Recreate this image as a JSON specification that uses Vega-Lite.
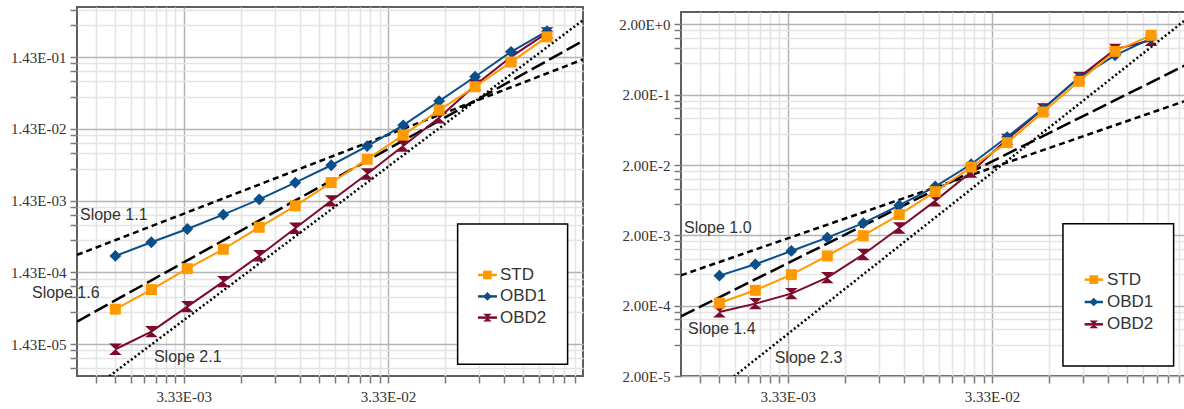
{
  "$schema": "https://vega.github.io/schema/vega-lite/v6.json",
  "background": "white",
  "padding": {"left": 9, "top": 6, "right": 0, "bottom": 0},
  "spacing": 33,
  "config": {
    "view": {"stroke": "#5e5e5e", "strokeWidth": 2},
    "axis": {"domain": false, "tickColor": "#7a7a7a", "tickWidth": 1.5, "tickSize": 7, "labelFont": "Liberation Sans Narrow", "labelColor": "#333333", "labelPadding": 4, "gridWidth": 1.5, "labelOverlap": false, "labelFlush": false},
    "axisX": {"labelPadding": 6}
  },
  "datasets": {
    "left": [
      {"series": "OBD2", "x": 0.0015415, "y": 1.21e-5}, {"series": "OBD2", "x": 0.0023122, "y": 2.13e-5}, {"series": "OBD2", "x": 0.0034683, "y": 4.76e-5}, {"series": "OBD2", "x": 0.0052025, "y": 1.06e-4}, {"series": "OBD2", "x": 0.0078037, "y": 2.44e-4}, {"series": "OBD2", "x": 0.0117055, "y": 5.88e-4}, {"series": "OBD2", "x": 0.0175583, "y": 1.42e-3}, {"series": "OBD2", "x": 0.0263374, "y": 3.36e-3}, {"series": "OBD2", "x": 0.0395062, "y": 8.24e-3}, {"series": "OBD2", "x": 0.0592593, "y": 2.04e-2}, {"series": "OBD2", "x": 0.0888889, "y": 5.82e-2}, {"series": "OBD2", "x": 0.1333333, "y": 0.144}, {"series": "OBD2", "x": 0.2, "y": 0.312},
      {"series": "OBD1", "x": 0.0015415, "y": 2.42e-4}, {"series": "OBD1", "x": 0.0023122, "y": 3.76e-4}, {"series": "OBD1", "x": 0.0034683, "y": 5.75e-4}, {"series": "OBD1", "x": 0.0052025, "y": 9.10e-4}, {"series": "OBD1", "x": 0.0078037, "y": 1.49e-3}, {"series": "OBD1", "x": 0.0117055, "y": 2.54e-3}, {"series": "OBD1", "x": 0.0175583, "y": 4.45e-3}, {"series": "OBD1", "x": 0.0263374, "y": 8.24e-3}, {"series": "OBD1", "x": 0.0395062, "y": 1.60e-2}, {"series": "OBD1", "x": 0.0592593, "y": 3.49e-2}, {"series": "OBD1", "x": 0.0888889, "y": 7.61e-2}, {"series": "OBD1", "x": 0.1333333, "y": 0.1695}, {"series": "OBD1", "x": 0.2, "y": 0.329},
      {"series": "STD", "x": 0.0015415, "y": 4.38e-5}, {"series": "STD", "x": 0.0023122, "y": 8.21e-5}, {"series": "STD", "x": 0.0034683, "y": 1.61e-4}, {"series": "STD", "x": 0.0052025, "y": 3.00e-4}, {"series": "STD", "x": 0.0078037, "y": 6.07e-4}, {"series": "STD", "x": 0.0117055, "y": 1.21e-3}, {"series": "STD", "x": 0.0175583, "y": 2.55e-3}, {"series": "STD", "x": 0.0263374, "y": 5.38e-3}, {"series": "STD", "x": 0.0395062, "y": 1.17e-2}, {"series": "STD", "x": 0.0592593, "y": 2.61e-2}, {"series": "STD", "x": 0.0888889, "y": 5.52e-2}, {"series": "STD", "x": 0.1333333, "y": 0.122}, {"series": "STD", "x": 0.2, "y": 0.274}
    ],
    "right": [
      {"series": "OBD2", "x": 0.0015415, "y": 1.63e-4}, {"series": "OBD2", "x": 0.0023122, "y": 2.14e-4}, {"series": "OBD2", "x": 0.0034683, "y": 2.97e-4}, {"series": "OBD2", "x": 0.0052025, "y": 5.01e-4}, {"series": "OBD2", "x": 0.0078037, "y": 1.07e-3}, {"series": "OBD2", "x": 0.0117055, "y": 2.54e-3}, {"series": "OBD2", "x": 0.0175583, "y": 6.19e-3}, {"series": "OBD2", "x": 0.0263374, "y": 1.59e-2}, {"series": "OBD2", "x": 0.0395062, "y": 4.64e-2}, {"series": "OBD2", "x": 0.0592593, "y": 0.126}, {"series": "OBD2", "x": 0.0888889, "y": 0.353}, {"series": "OBD2", "x": 0.1333333, "y": 0.883}, {"series": "OBD2", "x": 0.2, "y": 1.186},
      {"series": "OBD1", "x": 0.0015415, "y": 5.35e-4}, {"series": "OBD1", "x": 0.0023122, "y": 7.75e-4}, {"series": "OBD1", "x": 0.0034683, "y": 1.20e-3}, {"series": "OBD1", "x": 0.0052025, "y": 1.86e-3}, {"series": "OBD1", "x": 0.0078037, "y": 2.99e-3}, {"series": "OBD1", "x": 0.0117055, "y": 5.35e-3}, {"series": "OBD1", "x": 0.0175583, "y": 9.89e-3}, {"series": "OBD1", "x": 0.0263374, "y": 2.05e-2}, {"series": "OBD1", "x": 0.0395062, "y": 5.00e-2}, {"series": "OBD1", "x": 0.0592593, "y": 0.1267}, {"series": "OBD1", "x": 0.0888889, "y": 0.349}, {"series": "OBD1", "x": 0.1333333, "y": 0.725}, {"series": "OBD1", "x": 0.2, "y": 1.265},
      {"series": "STD", "x": 0.0015415, "y": 2.18e-4}, {"series": "STD", "x": 0.0023122, "y": 3.31e-4}, {"series": "STD", "x": 0.0034683, "y": 5.53e-4}, {"series": "STD", "x": 0.0052025, "y": 1.02e-3}, {"series": "STD", "x": 0.0078037, "y": 1.98e-3}, {"series": "STD", "x": 0.0117055, "y": 3.94e-3}, {"series": "STD", "x": 0.0175583, "y": 8.37e-3}, {"series": "STD", "x": 0.0263374, "y": 1.87e-2}, {"series": "STD", "x": 0.0395062, "y": 4.16e-2}, {"series": "STD", "x": 0.0592593, "y": 0.1133}, {"series": "STD", "x": 0.0888889, "y": 0.310}, {"series": "STD", "x": 0.1333333, "y": 0.826}, {"series": "STD", "x": 0.2, "y": 1.396}
    ],
    "slopesL": [
      {"slope": "1.1", "x": 0.001, "y": 2.50e-4}, {"slope": "1.1", "x": 0.3, "y": 0.1327},
      {"slope": "1.6", "x": 0.001, "y": 2.94e-5}, {"slope": "1.6", "x": 0.3, "y": 0.241},
      {"slope": "2.1", "x": 0.001, "y": 2.34e-6}, {"slope": "2.1", "x": 0.3, "y": 0.469}
    ],
    "slopesR": [
      {"slope": "1.0", "x": 0.001, "y": 5.41e-4}, {"slope": "1.0", "x": 0.3, "y": 0.1663},
      {"slope": "1.4", "x": 0.001, "y": 1.41e-4}, {"slope": "1.4", "x": 0.3, "y": 0.540},
      {"slope": "2.3", "x": 0.001, "y": 5.0e-6}, {"slope": "2.3", "x": 0.3, "y": 2.41}
    ],
    "labelsL": [
      {"text": "Slope 1.1", "x": 0.001034, "y": 9.02e-4},
      {"text": "Slope 1.6", "x": 0.000602, "y": 7.38e-5},
      {"text": "Slope 2.1", "x": 0.00238, "y": 9.48e-6}
    ],
    "labelsR": [
      {"text": "Slope 1.0", "x": 0.001034, "y": 2.54e-3},
      {"text": "Slope 1.4", "x": 0.001082, "y": 9.44e-5},
      {"text": "Slope 2.3", "x": 0.002875, "y": 3.61e-5}
    ],
    "boxL": [{"x": 0.07301, "x2": 0.2522, "y": 6.75e-4, "y2": 7.51e-6}],
    "boxR": [{"x": 0.07411, "x2": 0.2580, "y": 2.935e-3, "y2": 2.774e-5}],
    "legL": [
      {"series": "STD", "x": 0.09181, "x2": 0.11370, "xm": 0.10216, "xt": 0.11762, "y": 1.315e-4},
      {"series": "OBD1", "x": 0.09181, "x2": 0.11370, "xm": 0.10216, "xt": 0.11762, "y": 6.60e-5},
      {"series": "OBD2", "x": 0.09181, "x2": 0.11370, "xm": 0.10216, "xt": 0.11762, "y": 3.345e-5}
    ],
    "legR": [
      {"series": "STD", "x": 0.09463, "x2": 0.11630, "xm": 0.10486, "xt": 0.12168, "y": 4.692e-4},
      {"series": "OBD1", "x": 0.09463, "x2": 0.11630, "xm": 0.10486, "xt": 0.12168, "y": 2.254e-4},
      {"series": "OBD2", "x": 0.09463, "x2": 0.11630, "xm": 0.10486, "xt": 0.12168, "y": 1.086e-4}
    ]
  },
  "resolve": {"scale": {"color": "independent", "shape": "independent", "stroke": "independent", "strokeDash": "independent", "size": "independent"}},
  "hconcat": [
    {
      "width": 506,
      "height": 369,
      "layer": [
        {
          "data": {"name": "slopesL"},
          "mark": {"type": "line", "clip": true, "color": "black", "strokeWidth": 2.5},
          "encoding": {
            "x": {"field": "x", "type": "quantitative", "title": null,
              "scale": {"type": "log", "domain": [0.001, 0.3], "nice": false},
              "axis": {
                "values": [0.0012333, 0.0015333, 0.0018333, 0.0021333, 0.0024333, 0.0027333, 0.0030333, 0.0033333333333333335, 0.0063333, 0.0093333, 0.0123333, 0.0153333, 0.0183333, 0.0213333, 0.0243333, 0.0273333, 0.0303333, 0.03333333333333333, 0.0633333, 0.0933333, 0.1233333, 0.1533333, 0.1833333, 0.2133333, 0.2433333, 0.2733333],
                "labelExpr": "indexof([0.0033333333333333335, 0.03333333333333333], datum.value) >= 0 ? replace(upper(format(datum.value, '.2e')), 'E-', 'E-0') : ''",
                "labelFontSize": {"condition": {"test": "indexof([0.0033333333333333335, 0.03333333333333333], datum.value) >= 0", "value": 15}, "value": 0},
                "gridColor": {"condition": {"test": "indexof([0.0033333333333333335, 0.03333333333333333], datum.value) >= 0", "value": "#b3b3b3"}, "value": "#e4e4e4"}
              }},
            "y": {"field": "y", "type": "quantitative", "title": null,
              "scale": {"type": "log", "domain": [5.13e-6, 0.715], "nice": false},
              "axis": {
                "values": [6.578e-6, 9.152e-6, 1.1726e-5, 1.43e-5, 4.004e-5, 6.578e-5, 9.152e-5, 1.1726e-4, 1.43e-4, 4.004e-4, 6.578e-4, 9.152e-4, 1.1726e-3, 1.43e-3, 4.004e-3, 6.578e-3, 9.152e-3, 1.1726e-2, 1.43e-2, 4.004e-2, 6.578e-2, 9.152e-2, 1.1726e-1, 1.43e-1, 0.4004, 0.6578],
                "labelExpr": "indexof([1.43e-5, 1.43e-4, 1.43e-3, 1.43e-2, 1.43e-1], datum.value) >= 0 ? replace(upper(format(datum.value, '.2e')), 'E-', 'E-0') : ''",
                "labelFontSize": {"condition": {"test": "indexof([1.43e-5, 1.43e-4, 1.43e-3, 1.43e-2, 1.43e-1], datum.value) >= 0", "value": 15}, "value": 0},
                "gridColor": {"condition": {"test": "indexof([1.43e-5, 1.43e-4, 1.43e-3, 1.43e-2, 1.43e-1], datum.value) >= 0", "value": "#b3b3b3"}, "value": "#e4e4e4"}
              }},
            "strokeDash": {"field": "slope", "type": "nominal", "legend": null,
              "scale": {"domain": ["1.1", "1.6", "2.1"], "range": [[6, 4], [15, 5], [2, 2.5]]}}
          }
        },
        {
          "data": {"name": "left"},
          "mark": {"type": "line", "strokeWidth": 2},
          "encoding": {
            "x": {"field": "x", "type": "quantitative", "title": null},
            "y": {"field": "y", "type": "quantitative", "title": null},
            "stroke": {"field": "series", "type": "nominal", "legend": null,
              "scale": {"domain": ["STD", "OBD1", "OBD2"], "range": ["#FF9900", "#0B4F8A", "#7D0A2B"]}}
          }
        },
        {
          "data": {"name": "left"},
          "mark": {"type": "point", "filled": true, "opacity": 1},
          "encoding": {
            "x": {"field": "x", "type": "quantitative", "title": null},
            "y": {"field": "y", "type": "quantitative", "title": null},
            "size": {"field": "series", "type": "nominal", "legend": null,
              "scale": {"domain": ["STD", "OBD1", "OBD2"], "range": [120, 160, 130]}},
            "color": {"field": "series", "type": "nominal", "legend": null,
              "scale": {"domain": ["STD", "OBD1", "OBD2"], "range": ["#FF9900", "#0B4F8A", "#7D0A2B"]}},
            "shape": {"field": "series", "type": "nominal", "legend": null,
              "scale": {"domain": ["STD", "OBD1", "OBD2"], "range": ["square", "diamond", "M-1,-0.9L1,-0.9L-1,0.9L1,0.9Z"]}}
          }
        },
        {
          "data": {"name": "boxL"},
          "mark": {"type": "rect", "fill": "white", "stroke": "black", "strokeWidth": 1.5},
          "encoding": {
            "x": {"field": "x", "type": "quantitative", "title": null},
            "x2": {"field": "x2"},
            "y": {"field": "y", "type": "quantitative", "title": null},
            "y2": {"field": "y2"}
          }
        },
        {
          "data": {"name": "legL"},
          "mark": {"type": "rule", "strokeWidth": 2.5},
          "encoding": {
            "x": {"field": "x", "type": "quantitative", "title": null},
            "x2": {"field": "x2"},
            "y": {"field": "y", "type": "quantitative", "title": null},
            "color": {"field": "series", "type": "nominal", "legend": null}
          }
        },
        {
          "data": {"name": "legL"},
          "mark": {"type": "point", "filled": true, "opacity": 1, "size": 75},
          "encoding": {
            "x": {"field": "xm", "type": "quantitative", "title": null},
            "y": {"field": "y", "type": "quantitative", "title": null},
            "color": {"field": "series", "type": "nominal", "legend": null},
            "shape": {"field": "series", "type": "nominal", "legend": null}
          }
        },
        {
          "data": {"name": "legL"},
          "mark": {"type": "text", "font": "Liberation Sans", "fontSize": 17, "fill": "#333333", "align": "left", "baseline": "middle"},
          "encoding": {
            "x": {"field": "xt", "type": "quantitative", "title": null},
            "y": {"field": "y", "type": "quantitative", "title": null},
            "text": {"field": "series"}
          }
        },
        {
          "data": {"name": "labelsL"},
          "mark": {"type": "text", "font": "Liberation Sans", "fontSize": 16, "fill": "#333333", "align": "left", "baseline": "middle"},
          "encoding": {
            "x": {"field": "x", "type": "quantitative", "title": null},
            "y": {"field": "y", "type": "quantitative", "title": null},
            "text": {"field": "text"}
          }
        }
      ]
    },
    {
      "spacing": 3,
      "resolve": {"scale": {"color": "independent", "shape": "independent", "stroke": "independent", "strokeDash": "independent", "size": "independent"}},
      "vconcat": [
        {
          "width": 506,
          "height": 1,
          "view": {"stroke": null},
          "data": {"values": []},
          "mark": {"type": "point", "opacity": 0}
        },
        {
          "width": 506,
          "height": 364,
          "layer": [
            {
              "data": {"name": "slopesR"},
              "mark": {"type": "line", "clip": true, "color": "black", "strokeWidth": 2.5},
              "encoding": {
                "x": {"field": "x", "type": "quantitative", "title": null,
                  "scale": {"type": "log", "domain": [0.001, 0.3], "nice": false},
                  "axis": {
                    "values": [0.0012333, 0.0015333, 0.0018333, 0.0021333, 0.0024333, 0.0027333, 0.0030333, 0.0033333333333333335, 0.0063333, 0.0093333, 0.0123333, 0.0153333, 0.0183333, 0.0213333, 0.0243333, 0.0273333, 0.0303333, 0.03333333333333333, 0.0633333, 0.0933333, 0.1233333, 0.1533333, 0.1833333, 0.2133333, 0.2433333, 0.2733333],
                    "labelExpr": "indexof([0.0033333333333333335, 0.03333333333333333], datum.value) >= 0 ? replace(upper(format(datum.value, '.2e')), 'E-', 'E-0') : ''",
                    "labelFontSize": {"condition": {"test": "indexof([0.0033333333333333335, 0.03333333333333333], datum.value) >= 0", "value": 15}, "value": 0},
                    "gridColor": {"condition": {"test": "indexof([0.0033333333333333335, 0.03333333333333333], datum.value) >= 0", "value": "#b3b3b3"}, "value": "#e4e4e4"}
                  }},
                "y": {"field": "y", "type": "quantitative", "title": null,
                  "scale": {"type": "log", "domain": [2e-5, 3], "nice": false},
                  "axis": {
                    "values": [2e-5, 5.6e-5, 9.2e-5, 1.28e-4, 1.64e-4, 2e-4, 5.6e-4, 9.2e-4, 1.28e-3, 1.64e-3, 2e-3, 5.6e-3, 9.2e-3, 1.28e-2, 1.64e-2, 2e-2, 5.6e-2, 9.2e-2, 0.128, 0.164, 0.2, 0.56, 0.92, 1.28, 1.64, 2],
                    "labelExpr": "indexof([2e-5, 2e-4, 2e-3, 2e-2, 0.2, 2], datum.value) >= 0 ? upper(format(datum.value, '.2e')) : ''",
                    "labelFontSize": {"condition": {"test": "indexof([2e-5, 2e-4, 2e-3, 2e-2, 0.2, 2], datum.value) >= 0", "value": 15}, "value": 0},
                    "gridColor": {"condition": {"test": "indexof([2e-5, 2e-4, 2e-3, 2e-2, 0.2, 2], datum.value) >= 0", "value": "#b3b3b3"}, "value": "#e4e4e4"}
                  }},
                "strokeDash": {"field": "slope", "type": "nominal", "legend": null,
                  "scale": {"domain": ["1.0", "1.4", "2.3"], "range": [[6, 4], [15, 5], [2, 2.5]]}}
              }
            },
            {
              "data": {"name": "right"},
              "mark": {"type": "line", "strokeWidth": 2},
              "encoding": {
                "x": {"field": "x", "type": "quantitative", "title": null},
                "y": {"field": "y", "type": "quantitative", "title": null},
                "stroke": {"field": "series", "type": "nominal", "legend": null,
                  "scale": {"domain": ["STD", "OBD1", "OBD2"], "range": ["#FF9900", "#0B4F8A", "#7D0A2B"]}}
              }
            },
            {
              "data": {"name": "right"},
              "mark": {"type": "point", "filled": true, "opacity": 1},
              "encoding": {
                "x": {"field": "x", "type": "quantitative", "title": null},
                "y": {"field": "y", "type": "quantitative", "title": null},
                "size": {"field": "series", "type": "nominal", "legend": null,
                  "scale": {"domain": ["STD", "OBD1", "OBD2"], "range": [120, 160, 130]}},
                "color": {"field": "series", "type": "nominal", "legend": null,
                  "scale": {"domain": ["STD", "OBD1", "OBD2"], "range": ["#FF9900", "#0B4F8A", "#7D0A2B"]}},
                "shape": {"field": "series", "type": "nominal", "legend": null,
                  "scale": {"domain": ["STD", "OBD1", "OBD2"], "range": ["square", "diamond", "M-1,-0.9L1,-0.9L-1,0.9L1,0.9Z"]}}
              }
            },
            {
              "data": {"name": "boxR"},
              "mark": {"type": "rect", "fill": "white", "stroke": "black", "strokeWidth": 1.5},
              "encoding": {
                "x": {"field": "x", "type": "quantitative", "title": null},
                "x2": {"field": "x2"},
                "y": {"field": "y", "type": "quantitative", "title": null},
                "y2": {"field": "y2"}
              }
            },
            {
              "data": {"name": "legR"},
              "mark": {"type": "rule", "strokeWidth": 2.5},
              "encoding": {
                "x": {"field": "x", "type": "quantitative", "title": null},
                "x2": {"field": "x2"},
                "y": {"field": "y", "type": "quantitative", "title": null},
                "color": {"field": "series", "type": "nominal", "legend": null}
              }
            },
            {
              "data": {"name": "legR"},
              "mark": {"type": "point", "filled": true, "opacity": 1, "size": 75},
              "encoding": {
                "x": {"field": "xm", "type": "quantitative", "title": null},
                "y": {"field": "y", "type": "quantitative", "title": null},
                "color": {"field": "series", "type": "nominal", "legend": null},
                "shape": {"field": "series", "type": "nominal", "legend": null}
              }
            },
            {
              "data": {"name": "legR"},
              "mark": {"type": "text", "font": "Liberation Sans", "fontSize": 17, "fill": "#333333", "align": "left", "baseline": "middle"},
              "encoding": {
                "x": {"field": "xt", "type": "quantitative", "title": null},
                "y": {"field": "y", "type": "quantitative", "title": null},
                "text": {"field": "series"}
              }
            },
            {
              "data": {"name": "labelsR"},
              "mark": {"type": "text", "font": "Liberation Sans", "fontSize": 16, "fill": "#333333", "align": "left", "baseline": "middle"},
              "encoding": {
                "x": {"field": "x", "type": "quantitative", "title": null},
                "y": {"field": "y", "type": "quantitative", "title": null},
                "text": {"field": "text"}
              }
            }
          ]
        }
      ]
    }
  ]
}
